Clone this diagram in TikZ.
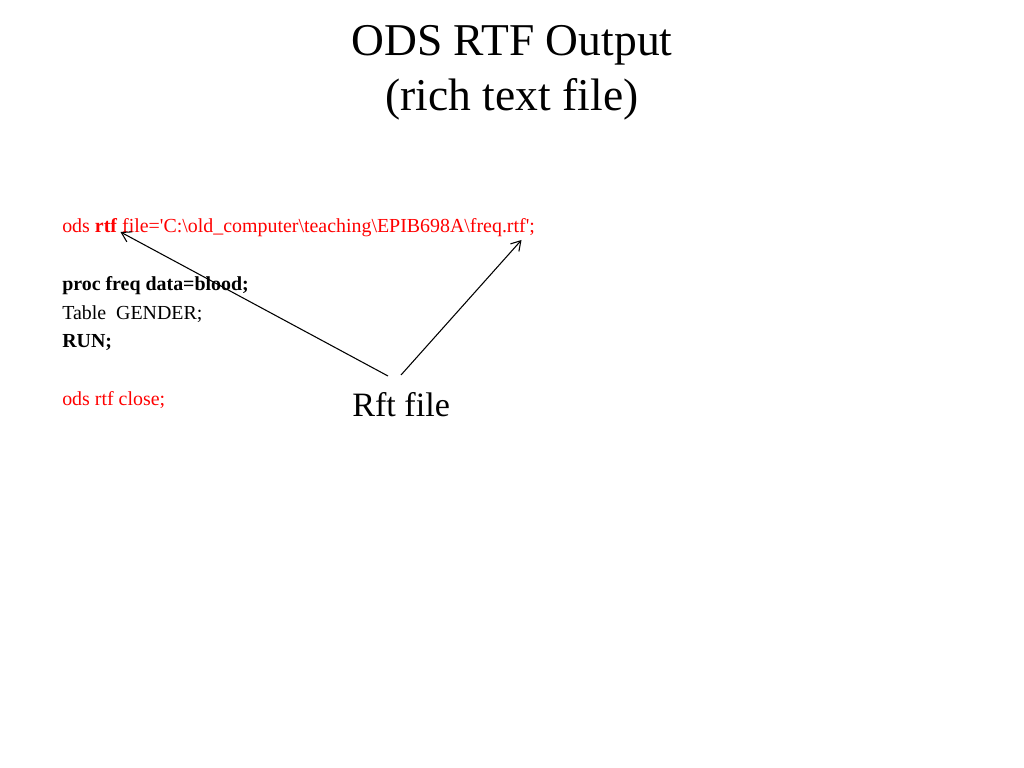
\documentclass[tikz,border=0pt]{standalone}
\usepackage{fontspec}
\setmainfont{Liberation Serif}
\usetikzlibrary{arrows.meta}
\begin{document}
\begin{tikzpicture}[x=0.703125pt,y=-0.703125pt,
  title/.style={inner sep=0pt,anchor=base,font=\fontsize{32}{38}\selectfont},
  code/.style={inner sep=0pt,anchor=base west,font=\fontsize{14}{17}\selectfont},
  redcode/.style={code,text=red},
  label/.style={inner sep=0pt,anchor=base west,font=\fontsize{24}{29}\selectfont},
  pointer/.style={draw=black,line width=0.75pt,-{Straight Barb[length=6.5pt,width=8pt,line width=0.75pt]}}]
\useasboundingbox[fill=white] (0,0) rectangle (1024,768);
\node[title] (t1) at (512,56) {ODS RTF Output};
\node[title] (t2) at (512,111) {(rich text file)};
\node[redcode] (c1) at (62,232.5) {ods \textbf{rtf} file=\textquotesingle C:\textbackslash old\_computer\textbackslash teaching\textbackslash EPIB698A\textbackslash freq.rtf\textquotesingle;};
\node[code] (c2) at (62,290.5) {\textbf{proc freq data=blood;}};
\node[code] (c3) at (62,319) {Table\ \ GENDER;};
\node[code] (c4) at (62,347.5) {\textbf{RUN;}};
\node[redcode] (c5) at (62,405.5) {ods rtf close;};
\node[label] (rft) at (352,416) {Rft file};
\coordinate (s1) at (388,376);
\coordinate (s2) at (401,375);
\coordinate (e1) at (120.5,232);
\coordinate (e2) at (521.5,240);
\draw[pointer] (s1) -- (e1);
\draw[pointer] (s2) -- (e2);
\end{tikzpicture}
\end{document}
